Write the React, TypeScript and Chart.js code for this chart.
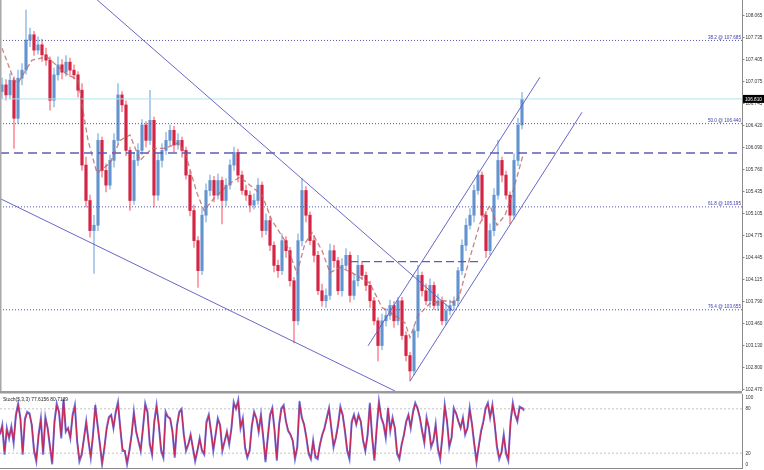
import { useEffect, useRef } from "react";
import { Chart, registerables } from "chart.js";

Chart.register(...registerables);

// ---- price candles (one per bar) ----
const openP = [
  106.92, 107.02, 106.87, 107.09, 106.52, 107.12, 107.24, 107.69, 107.77, 107.54,
  107.62, 107.47, 107.39, 106.79, 107.17, 107.32, 107.21, 107.36, 107.24, 107.17,
  106.94, 105.82, 105.29, 104.84, 104.92, 106.19, 105.74, 105.52, 105.89, 106.19,
  106.87, 106.72, 106.04, 105.29, 105.89, 106.04, 106.42, 106.19, 106.49, 105.37,
  105.89, 106.04, 106.19, 106.34, 106.12, 106.19, 106.04, 105.67, 105.14, 104.69,
  104.24, 105.07, 105.44, 105.59, 105.37, 105.59, 105.29, 105.52, 105.82, 106.01,
  105.67, 105.44, 105.37, 105.22, 105.29, 105.52, 104.84, 104.99, 104.62, 104.32,
  104.24, 104.69, 104.54, 104.09, 103.49, 104.69, 105.44, 105.07, 104.69, 104.47,
  103.94, 103.79, 103.87, 104.54, 104.39, 103.94, 104.32, 104.47, 103.87, 104.09,
  104.32, 104.17, 104.02, 103.79, 103.49, 103.12, 103.49, 103.57, 103.72, 103.49,
  103.79, 103.27, 102.97, 102.74, 103.34, 104.17, 103.94, 103.79, 104.02, 103.72,
  103.79, 103.49, 103.64, 103.72, 103.79, 104.24, 104.62, 104.92, 105.07, 105.44,
  105.67, 105.07, 104.54, 104.84, 105.37, 105.89, 105.67, 105.37, 105.07, 105.89,
  106.42,
];
const highP = [
  107.12, 107.10, 107.19, 107.14, 107.24, 107.34, 108.14, 107.87, 107.82, 107.74,
  107.70, 107.57, 107.44, 107.27, 107.44, 107.40, 107.46, 107.42, 107.32, 107.22,
  107.04, 105.94, 105.37, 105.07, 106.29, 106.24, 105.84, 105.97, 106.29, 107.04,
  106.92, 106.78, 106.09, 106.01, 106.14, 106.50, 106.47, 106.94, 106.54, 105.99,
  106.14, 106.31, 106.42, 106.40, 106.29, 106.24, 106.09, 105.73, 105.22, 104.75,
  105.17, 105.54, 105.67, 105.65, 105.69, 105.64, 105.62, 105.90, 106.09, 106.06,
  105.73, 105.52, 105.43, 105.39, 105.62, 105.57, 105.09, 105.05, 104.67, 104.40,
  104.79, 104.75, 104.59, 104.14, 104.79, 105.62, 105.50, 105.12, 104.77, 104.53,
  104.04, 103.97, 104.64, 104.62, 104.44, 104.42, 104.57, 104.52, 104.19, 104.47,
  104.38, 104.22, 104.08, 103.84, 103.54, 103.59, 103.67, 103.80, 103.78, 103.84,
  103.84, 103.33, 103.02, 103.42, 104.32, 104.22, 104.04, 104.12, 104.07, 103.89,
  103.85, 103.74, 103.80, 103.85, 104.29, 104.70, 105.02, 105.17, 105.52, 105.74,
  105.72, 105.13, 104.94, 105.47, 106.19, 105.94, 105.73, 105.42, 105.99, 106.52,
  106.91,
];
const lowP = [
  106.82, 106.79, 106.81, 106.07, 106.44, 107.02, 107.18, 107.59, 107.46, 107.48,
  107.37, 107.31, 106.64, 106.69, 107.09, 107.11, 107.15, 107.14, 107.11, 106.84,
  105.74, 105.19, 104.74, 104.20, 104.84, 105.64, 105.42, 105.46, 105.79, 106.13,
  106.62, 105.96, 105.14, 105.23, 105.81, 105.98, 106.09, 106.13, 105.19, 105.29,
  105.79, 105.98, 106.11, 106.02, 106.06, 105.94, 105.61, 105.06, 104.59, 103.99,
  104.18, 104.97, 105.36, 105.27, 105.31, 104.94, 105.21, 105.46, 105.74, 105.57,
  105.38, 105.29, 105.12, 105.16, 105.23, 104.74, 104.78, 104.54, 104.22, 104.14,
  104.18, 104.44, 104.01, 103.16, 103.43, 104.61, 104.97, 104.63, 104.37, 103.88,
  103.71, 103.69, 103.81, 104.29, 103.88, 103.86, 104.26, 103.77, 103.81, 104.01,
  104.11, 103.94, 103.69, 103.43, 102.89, 103.06, 103.41, 103.51, 103.39, 103.43,
  103.21, 102.89, 102.59, 102.68, 103.24, 103.86, 103.73, 103.69, 103.66, 103.64,
  103.43, 103.43, 103.58, 103.66, 103.71, 104.18, 104.54, 104.86, 104.97, 105.38,
  104.99, 104.44, 104.48, 104.76, 105.31, 105.57, 105.31, 104.94, 105.01, 105.81,
  106.36,
];
const closeP = [
  107.02, 106.87, 107.09, 106.52, 107.12, 107.24, 107.69, 107.77, 107.54, 107.62,
  107.47, 107.39, 106.79, 107.17, 107.32, 107.21, 107.36, 107.24, 107.17, 106.94,
  105.82, 105.29, 104.84, 104.92, 106.19, 105.74, 105.52, 105.89, 106.19, 106.87,
  106.72, 106.04, 105.29, 105.89, 106.04, 106.42, 106.19, 106.49, 105.37, 105.89,
  106.04, 106.19, 106.34, 106.12, 106.19, 106.04, 105.67, 105.14, 104.69, 104.24,
  105.07, 105.44, 105.59, 105.37, 105.59, 105.29, 105.52, 105.82, 106.01, 105.67,
  105.44, 105.37, 105.22, 105.29, 105.52, 104.84, 104.99, 104.62, 104.32, 104.24,
  104.69, 104.54, 104.09, 103.49, 104.69, 105.44, 105.07, 104.69, 104.47, 103.94,
  103.79, 103.87, 104.54, 104.39, 103.94, 104.32, 104.47, 103.87, 104.09, 104.32,
  104.17, 104.02, 103.79, 103.49, 103.12, 103.49, 103.57, 103.72, 103.49, 103.79,
  103.27, 102.97, 102.74, 103.34, 104.17, 103.94, 103.79, 104.02, 103.72, 103.79,
  103.49, 103.64, 103.72, 103.79, 104.24, 104.62, 104.92, 105.07, 105.44, 105.67,
  105.07, 104.54, 104.84, 105.37, 105.89, 105.67, 105.37, 105.07, 105.89, 106.42,
  106.81,
];

// ---- dashed moving-average style line (bar position, price) ----
const maIdx = [0, 3, 4, 7.5, 11.25, 15.75, 19, 21.5, 23.75, 27, 29.5, 32, 34.5, 37.5, 40.75, 44, 45.75, 48.75, 50.5, 53.25, 57, 59.5, 62, 65, 67.5, 70.75, 73.75, 75.75, 77.5, 80, 82, 84.5, 87.5, 92, 95, 98.25, 100.75, 102, 104, 107, 110.75, 113.25, 114.5, 117, 119.5, 122, 123.75, 125.75, 127.5, 130.25];
const maVal = [107.57, 107.09, 107.05, 107.39, 107.44, 107.20, 107.09, 106.19, 105.70, 105.85, 106.19, 106.27, 105.89, 106.07, 106.07, 106.15, 106.01, 105.40, 105.14, 105.34, 105.55, 105.64, 105.52, 105.37, 104.99, 104.69, 104.20, 104.65, 104.81, 104.54, 104.21, 104.29, 104.21, 104.05, 103.69, 103.57, 103.46, 103.24, 103.57, 103.75, 103.79, 103.76, 103.90, 104.44, 104.95, 105.22, 104.92, 105.07, 105.37, 105.97];

// ---- axis ticks ----
const yTicks = [108.065, 107.735, 107.405, 107.075, 106.745, 106.42, 106.09, 105.76, 105.435, 105.105, 104.775, 104.445, 104.115, 103.79, 103.46, 103.13, 102.8, 102.47];
const stochTicks = [100, 80, 20, 0];

// ---- levels ----
const fibNames = ["38.2", "50.0", "61.8", "76.4"];
const fibLevels = [107.685, 106.44, 105.195, 103.655];
const lastPrice = 106.81;
const pivotLevel = 106.0;
const rangeLevel = 104.375;
const rangeFrom = 87;
const rangeTo = 120;

// ---- trend lines: [bar1, price1, bar2, price2] ----
const trendA = [20, 108.49, 112.75, 103.64];
const trendB = [-0.5, 105.32, 98.25, 102.44];
const trendC = [91.5, 103.115, 134.5, 107.135];
const trendD = [102, 102.59, 145, 106.61];

// ---- stochastic (5,3,3) ----
const stochK = [
  45, 58, 18, 54, 40, 56, 34, 72, 87, 67, 18, 67, 76, 74, 58, 23, 9, 45, 67, 18,
  69, 54, 29, 5, 63, 87, 76, 40, 94, 49, 54, 40, 72, 85, 36, 9, 18, 40, 63, 36,
  14, 45, 85, 58, 32, 5, 27, 54, 69, 72, 54, 76, 89, 54, 23, 23, 5, 23, 45, 76,
  49, 36, 23, 54, 87, 76, 32, 18, 63, 85, 58, 23, 14, 76, 69, 67, 49, 14, 58, 76,
  80, 45, 23, 32, 45, 27, 9, 23, 40, 23, 18, 63, 72, 49, 23, 45, 67, 58, 23, 36,
  49, 32, 54, 89, 80, 92, 54, 67, 27, 14, 23, 58, 76, 67, 49, 72,
  41, 8, 41, 72, 81, 50, 10, 59, 81, 85, 63, 50, 45, 37, 12, 28, 90, 68, 59, 41,
  19, 12, 37, 14, 12, 32, 45, 54, 68, 81, 54, 28, 41, 59, 83, 72, 50, 23, 12, 63,
  72, 59, 72, 63, 37, 23, 45, 88, 41, 10, 54, 90, 68, 59, 41, 81, 50, 68, 54, 19,
  12, 32, 45, 63, 72, 54, 76, 88, 81, 68, 50, 34, 68, 54, 28, 37, 59, 25, 12, 45,
  85, 63, 28, 41, 81, 74, 63, 54, 68, 45, 54, 81, 59, 32, 8, 30, 50, 63, 81, 88,
  68, 85, 59, 28, 12, 21, 45, 19, 10, 63, 88, 72, 63, 83, 81, 77.6,
];
const stochD = [
  47, 56, 22, 51, 42, 54, 37, 69, 84, 66, 21, 64, 74, 73, 59, 26, 12, 43, 64, 21,
  66, 54, 31, 8, 60, 84, 75, 43, 91, 51, 53, 42, 70, 82, 38, 12, 19, 40, 61, 37,
  17, 44, 82, 58, 34, 8, 28, 52, 67, 71, 55, 74, 86, 55, 26, 23, 8, 23, 44, 73,
  50, 37, 25, 53, 84, 75, 34, 20, 61, 82, 58, 26, 16, 73, 69, 66, 50, 17, 56, 74,
  78, 46, 26, 32, 44, 28, 12, 24, 39, 25, 20, 60, 70, 50, 26, 44, 65, 58, 26, 36,
  48, 34, 53, 86, 81, 89, 56, 65, 30, 16, 24, 56, 74, 67, 51, 70,
  44, 11, 40, 69, 79, 52, 13, 57, 79, 83, 64, 51, 46, 37, 15, 28, 86, 69, 59, 43,
  22, 14, 35, 17, 14, 31, 44, 53, 66, 79, 55, 31, 40, 57, 80, 72, 52, 26, 15, 60,
  71, 60, 70, 63, 39, 25, 44, 85, 44, 13, 52, 87, 69, 60, 43, 78, 52, 66, 55, 22,
  14, 31, 44, 61, 71, 56, 74, 86, 81, 69, 52, 36, 65, 55, 31, 36, 57, 28, 15, 42,
  82, 64, 31, 40, 78, 74, 64, 55, 66, 47, 53, 78, 60, 35, 11, 29, 48, 61, 79, 86,
  70, 83, 61, 31, 15, 21, 43, 22, 13, 60, 85, 73, 65, 81, 81, 80.7,
];
const stochTitle = "Stoch(5,3,3) 77.6156 80.7129";

const SMALL = "'Liberation Sans',Arial,sans-serif";
const X_MIN = -0.5;
const X_MAX = 185;
const S_MAX = 327;

// draws horizontally condensed text (narrow terminal-style font)
function narrowText(
  ctx: CanvasRenderingContext2D,
  text: string,
  x: number,
  y: number,
  size: number,
  squeeze: number,
  align: "left" | "right",
  color: string
) {
  ctx.save();
  ctx.font = `${size}px ${SMALL}`;
  ctx.fillStyle = color;
  ctx.textBaseline = "middle";
  ctx.textAlign = align;
  ctx.translate(x, y);
  ctx.scale(squeeze, 1);
  ctx.fillText(text, 0, 0);
  ctx.restore();
}

export default function App() {
  const mainRef = useRef<HTMLCanvasElement>(null);
  const stochRef = useRef<HTMLCanvasElement>(null);

  useEffect(() => {
    document.body.style.margin = "0";
    const bull = closeP.map((c, i) => c >= openP[i]);
    const hline = (v: number, a = X_MIN, b = X_MAX) => [
      { x: a, y: v },
      { x: b, y: v },
    ];
    const seg = (t: number[]) => [
      { x: t[0], y: t[1] },
      { x: t[2], y: t[3] },
    ];
    const lineBase = { type: "line" as const, pointRadius: 0, tension: 0, fill: false };
    const trendColor = "rgba(95,95,195,0.95)";
    const fibColor = "#5252b2";

    const mainPlugin = {
      id: "mainOverlay",
      afterDraw(chart: any) {
        const ctx = chart.ctx as CanvasRenderingContext2D;
        const ys = chart.scales.y;
        const area = chart.chartArea;
        ctx.save();
        // left border
        ctx.strokeStyle = "#a8a8a8";
        ctx.lineWidth = 1.5;
        ctx.beginPath();
        ctx.moveTo(area.left + 0.75, 0);
        ctx.lineTo(area.left + 0.75, chart.height);
        ctx.stroke();
        // axis tick marks + labels
        ctx.strokeStyle = "#888";
        ctx.lineWidth = 1;
        yTicks.forEach((v) => {
          const y = Math.round(ys.getPixelForValue(v)) + 0.5;
          ctx.beginPath();
          ctx.moveTo(area.right, y);
          ctx.lineTo(area.right + 2.5, y);
          ctx.stroke();
          narrowText(ctx, v.toFixed(3), area.right + 3.5, y, 6, 0.78, "left", "#333");
        });
        ctx.restore();
        // fib labels
        fibLevels.forEach((v, i) => {
          const y = ys.getPixelForValue(v);
          narrowText(ctx, `${fibNames[i]} @ ${v.toFixed(3)}`, area.right - 1, y - 3.5, 5.8, 0.8, "right", "#3c3cb0");
        });
        // last price box
        const py = ys.getPixelForValue(lastPrice);
        ctx.save();
        ctx.fillStyle = "#000";
        ctx.fillRect(area.right + 1, py - 4, 21, 8);
        ctx.restore();
        narrowText(ctx, lastPrice.toFixed(3), area.right + 3, py + 0.3, 6, 0.78, "left", "#fff");
      },
    };

    const main = new Chart(mainRef.current as HTMLCanvasElement, {
      type: "bar",
      data: {
        datasets: [
          {
            ...lineBase,
            data: maIdx.map((x, i) => ({ x, y: maVal[i] })),
            borderColor: "rgba(185,100,100,0.8)",
            borderWidth: 1.3,
            borderDash: [5, 3],
            order: 0,
          },
          ...[trendA, trendB, trendC, trendD].map((t) => ({
            ...lineBase,
            data: seg(t),
            borderColor: trendColor,
            borderWidth: 1,
            order: 1,
          })),
          ...fibLevels.map((v) => ({
            ...lineBase,
            data: hline(v),
            borderColor: fibColor,
            borderWidth: 1,
            borderDash: [1, 2],
            order: 1,
          })),
          {
            ...lineBase,
            data: hline(pivotLevel),
            borderColor: "rgba(85,85,175,0.95)",
            borderWidth: 1.6,
            borderDash: [9, 5],
            order: 1,
          },
          {
            ...lineBase,
            data: hline(rangeLevel, rangeFrom, rangeTo),
            borderColor: "rgba(85,85,175,0.95)",
            borderWidth: 1.3,
            borderDash: [8, 4],
            order: 1,
          },
          {
            ...lineBase,
            data: hline(lastPrice),
            borderColor: "#b4e4ee",
            borderWidth: 1,
            order: 2,
          },
          {
            type: "bar" as const,
            data: closeP.map((c, i) => ({ x: i, y: [openP[i], c] })),
            backgroundColor: bull.map((b) => (b ? "rgba(80,135,200,0.8)" : "rgba(205,18,52,0.88)")),
            borderWidth: 0,
            barThickness: 2.6,
            grouped: false,
            order: 3,
          },
          {
            type: "bar" as const,
            data: closeP.map((_, i) => ({ x: i, y: [lowP[i], highP[i]] })),
            backgroundColor: bull.map((b) => (b ? "rgba(130,175,225,0.75)" : "rgba(250,110,125,0.75)")),
            borderWidth: 0,
            barThickness: 1,
            grouped: false,
            order: 4,
          },
        ] as any,
      },
      options: {
        animation: false,
        responsive: false,
        maintainAspectRatio: false,
        events: [],
        layout: { padding: 0 },
        plugins: { legend: { display: false }, tooltip: { enabled: false } },
        scales: {
          x: { type: "linear", min: X_MIN, max: X_MAX, display: false, offset: false },
          y: {
            type: "linear",
            position: "right",
            min: 102.44,
            max: 108.29,
            afterBuildTicks: (s: any) => {
              s.ticks = yTicks.map((v) => ({ value: v }));
            },
            afterFit: (s: any) => {
              s.width = 22;
            },
            ticks: { display: false },
            grid: { display: false },
            border: { display: true, color: "#8a8a8a", width: 1 },
          },
        },
      } as any,
      plugins: [mainPlugin],
    });

    const stochPlugin = {
      id: "stochOverlay",
      afterDraw(chart: any) {
        const ctx = chart.ctx as CanvasRenderingContext2D;
        const ys = chart.scales.y;
        const area = chart.chartArea;
        ctx.save();
        ctx.fillStyle = "#9a9a9a";
        ctx.fillRect(0, 0, area.right, 2.5);
        ctx.strokeStyle = "#8a8a8a";
        ctx.lineWidth = 1;
        ctx.beginPath();
        ctx.moveTo(0, area.bottom + 0.5);
        ctx.lineTo(area.right, area.bottom + 0.5);
        ctx.stroke();
        ctx.restore();
        stochTicks.forEach((v) => {
          let y = ys.getPixelForValue(v);
          if (v === 100) y += 3.5;
          if (v === 0) y -= 4;
          narrowText(ctx, String(v), area.right + 3.5, y, 6, 0.78, "left", "#333");
        });
        narrowText(ctx, stochTitle, 3, 8, 6, 0.82, "left", "#222");
      },
    };

    const stoch = new Chart(stochRef.current as HTMLCanvasElement, {
      type: "line",
      data: {
        datasets: [
          {
            data: stochK.map((v, j) => ({ x: j, y: v })),
            borderColor: "rgba(75,75,215,0.8)",
            borderWidth: 2,
            pointRadius: 0,
            tension: 0,
            order: 2,
          },
          {
            data: stochD.map((v, j) => ({ x: j, y: v })),
            borderColor: "rgba(225,25,50,0.85)",
            borderWidth: 1.1,
            pointRadius: 0,
            tension: 0,
            order: 1,
          },
          {
            data: [
              { x: 0, y: 80 },
              { x: S_MAX, y: 80 },
            ],
            borderColor: "#c4c4c4",
            borderWidth: 1,
            borderDash: [2, 2],
            pointRadius: 0,
            order: 5,
          },
          {
            data: [
              { x: 0, y: 20 },
              { x: S_MAX, y: 20 },
            ],
            borderColor: "#c4c4c4",
            borderWidth: 1,
            borderDash: [2, 2],
            pointRadius: 0,
            order: 5,
          },
        ],
      },
      options: {
        animation: false,
        responsive: false,
        maintainAspectRatio: false,
        events: [],
        layout: { padding: { top: 3, bottom: 2, left: 0, right: 0 } },
        plugins: { legend: { display: false }, tooltip: { enabled: false } },
        scales: {
          x: { type: "linear", min: 0, max: S_MAX, display: false },
          y: {
            position: "right",
            min: 0,
            max: 100,
            ticks: { display: false },
            grid: { display: false },
            border: { display: true, color: "#8a8a8a", width: 1 },
            afterFit: (s: any) => {
              s.width = 22;
            },
          },
        },
      } as any,
      plugins: [stochPlugin],
    });

    return () => {
      main.destroy();
      stoch.destroy();
    };
  }, []);

  return (
    <div style={{ position: "relative", width: 764, height: 470, background: "#fff", overflow: "hidden" }}>
      <canvas
        ref={mainRef}
        width={764}
        height={391}
        style={{ position: "absolute", left: 0, top: 0, width: 764, height: 391 }}
      />
      <canvas
        ref={stochRef}
        width={764}
        height={79}
        style={{ position: "absolute", left: 0, top: 391, width: 764, height: 79 }}
      />
    </div>
  );
}
